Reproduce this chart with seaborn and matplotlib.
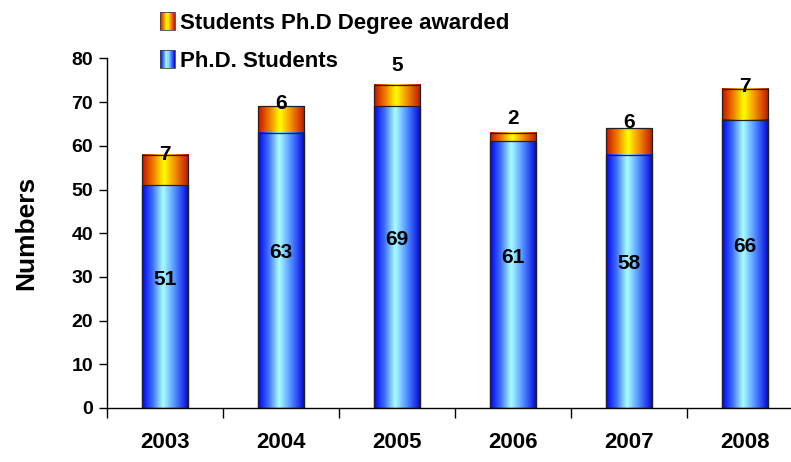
import numpy as np
import pandas as pd
import matplotlib
matplotlib.use("Agg")
import matplotlib.pyplot as plt
import seaborn as sns
from matplotlib.colors import LinearSegmentedColormap
from matplotlib.patches import Rectangle
from matplotlib.legend_handler import HandlerBase

# ---- data ----
years = ["2003", "2004", "2005", "2006", "2007", "2008"]
phd_students = [51, 63, 69, 61, 58, 66]
degrees_awarded = [7, 6, 5, 2, 6, 7]
label_students = "Ph.D. Students"
label_awarded = "Students Ph.D Degree awarded"
y_ticks = [0, 10, 20, 30, 40, 50, 60, 70, 80]

# label nudges (points), styling only
top_label_dy = [0, 2, 14, 10, 4, 2]

sns.set_theme(style="white")
plt.rcParams["font.family"] = ["Liberation Sans Narrow", "Liberation Sans", "DejaVu Sans"]
plt.rcParams["font.weight"] = "bold"
plt.rcParams["text.color"] = "black"
plt.rcParams["axes.labelcolor"] = "black"
plt.rcParams["xtick.color"] = "black"
plt.rcParams["ytick.color"] = "black"
plt.rcParams["xtick.labelcolor"] = "black"
plt.rcParams["ytick.labelcolor"] = "black"

df = pd.DataFrame({"year": years, "students": phd_students, "awarded": degrees_awarded})
df["total"] = df["students"] + df["awarded"]

fig = plt.figure(figsize=(7.91, 4.62), dpi=100)
ax = fig.add_axes([107 / 791, 54 / 462, 696 / 791, 349.6 / 462])

blue_cmap = LinearSegmentedColormap.from_list(
    "blue", [(0, "#0000f0"), (0.22, "#3c6cff"), (0.45, "#a8ffff"), (0.72, "#4c88ff"), (1, "#0000d8")])
orange_cmap = LinearSegmentedColormap.from_list(
    "orange", [(0, "#c81000"), (0.25, "#f08000"), (0.47, "#ffff00"), (0.72, "#f08a00"), (1, "#c01000")])

bw = 0.405
sns.barplot(data=df, x="year", y="total", color="#f08000", width=bw, ax=ax,
            edgecolor="#222222", linewidth=0.9, saturation=1)
sns.barplot(data=df, x="year", y="students", color="#3c6cff", width=bw, ax=ax,
            edgecolor="#222222", linewidth=0.9, saturation=1)

grad = np.linspace(0, 1, 256).reshape(1, -1)
patches = list(ax.patches)
n = len(years)
for i, p in enumerate(patches):
    cmap = orange_cmap if i < n else blue_cmap
    x0, y0 = p.get_x(), p.get_y()
    w, h = p.get_width(), p.get_height()
    ax.imshow(grad, cmap=cmap, extent=[x0, x0 + w, y0, y0 + h],
              aspect="auto", zorder=p.get_zorder() - 0.01 + (0.5 if i >= n else 0),
              interpolation="bilinear")
    p.set_facecolor("none")
    if i >= n:
        p.set_zorder(p.get_zorder() + 0.6)
    else:
        p.set_zorder(p.get_zorder() + 0.2)

ax.set_xlim(-0.5, 5.5)
ax.set_ylim(0, 80)
ax.set_yticks(y_ticks)
ax.set_xlabel("")
ax.set_ylabel("Numbers", fontsize=19, fontweight="bold", labelpad=24, color="black")

# spines
for s in ["top", "right"]:
    ax.spines[s].set_visible(False)
for s in ["left", "bottom"]:
    ax.spines[s].set_color("black")
    ax.spines[s].set_linewidth(1.0)

ax.tick_params(axis="y", which="major", direction="out", length=6, width=1, color="black",
               labelsize=14, left=True, pad=4, labelcolor="black")
ax.tick_params(axis="x", which="major", length=0, labelsize=16, pad=17, labelcolor="black")
ax.set_xticks(range(n))
ax.set_xticklabels(years, fontweight="bold")
for t in ax.get_yticklabels():
    t.set_fontweight("bold")
ax.set_xticks(np.arange(-0.5, n, 1.0), minor=True)
ax.tick_params(axis="x", which="minor", direction="out", length=7, width=1, color="black", bottom=True)

# value labels
for i in range(n):
    s = phd_students[i]
    a = degrees_awarded[i]
    ax.text(i, s / 2 + 4, str(s), ha="center", va="center", fontsize=15,
            fontweight="bold", color="black", zorder=10)
    ax.annotate(str(a), (i, s + a), xytext=(0, top_label_dy[i]), textcoords="offset points",
                ha="center", va="center", fontsize=15, fontweight="bold",
                color="black", zorder=10, annotation_clip=False)


class GradHandler(HandlerBase):
    def __init__(self, cmap):
        super().__init__()
        self.cmap = cmap

    def create_artists(self, legend, orig_handle, xdescent, ydescent, width, height, fontsize, trans):
        arts = []
        k = 14
        w = 11.0
        h = 13.0
        x0 = -xdescent + (width - w)
        y0 = -ydescent + (height - h) / 2
        for j in range(k):
            r = Rectangle((x0 + j * w / k, y0), w / k + 0.05, h,
                          facecolor=self.cmap((j + 0.5) / k), edgecolor="none", transform=trans)
            arts.append(r)
        arts.append(Rectangle((x0, y0), w, h, facecolor="none", edgecolor="#444444",
                              linewidth=0.6, transform=trans))
        return arts


h1 = Rectangle((0, 0), 1, 1)
h2 = Rectangle((0, 0), 1, 1)
leg = fig.legend([h1, h2], [label_awarded, label_students],
                 handler_map={h1: GradHandler(orange_cmap), h2: GradHandler(blue_cmap)},
                 loc="upper left", bbox_to_anchor=(144 / 791, 1 - 4 / 462),
                 frameon=False, fontsize=16, labelspacing=0.75, handlelength=1.0,
                 handletextpad=0.2, borderaxespad=0, prop={"weight": "bold", "size": 16},
                 labelcolor="black")

fig.savefig("out.png", dpi=100)
